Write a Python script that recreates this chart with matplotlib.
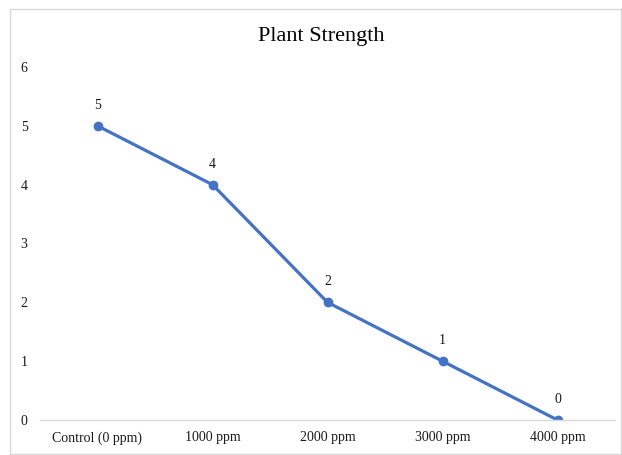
import matplotlib.pyplot as plt
from matplotlib.patches import Rectangle

plt.rcParams['font.family'] = ['Liberation Serif', 'DejaVu Serif']

categories = ['Control (0 ppm)', '1000 ppm', '2000 ppm', '3000 ppm', '4000 ppm']
strength = [5, 4, 2, 1, 0]
y_ticks = [0, 1, 2, 3, 4, 5, 6]

fig = plt.figure(figsize=(6.22, 4.55), dpi=100)
ax = fig.add_axes([40 / 622, 35 / 455, 575 / 622, 353 / 455])

x = range(len(categories))
ax.plot(x, strength, color='#4472C4', linewidth=2.3, marker='o', markersize=6)
for xi, v in zip(x, strength):
    ax.annotate(str(v), (xi, v), xytext=(0, 10), textcoords='offset points',
                ha='center', va='bottom', fontsize=10, color='#1a1a1a')

ax.set_xlim(-0.5, len(categories) - 0.5)
ax.set_ylim(0, 6)
ax.set_xticks(list(x))
ax.set_xticklabels(categories)
ax.set_yticks(y_ticks)
ax.tick_params(axis='both', length=0, labelsize=10, colors='#1a1a1a')
ax.tick_params(axis='y', pad=9)
ax.tick_params(axis='x', pad=8)
for s in ['top', 'right', 'left']:
    ax.spines[s].set_visible(False)
ax.spines['bottom'].set_color('#D9D9D9')
ax.spines['bottom'].set_linewidth(1)

fig.text(321 / 622, 1 - 37 / 455, 'Plant Strength', ha='center', va='center', fontsize=16, color='#000000')

fig.patches.append(Rectangle((10 / 622, 1 / 455), 611 / 622, 445 / 455, transform=fig.transFigure,
                             fill=False, edgecolor='#D9D9D9', linewidth=1))

fig.savefig('out.png', dpi=100)
